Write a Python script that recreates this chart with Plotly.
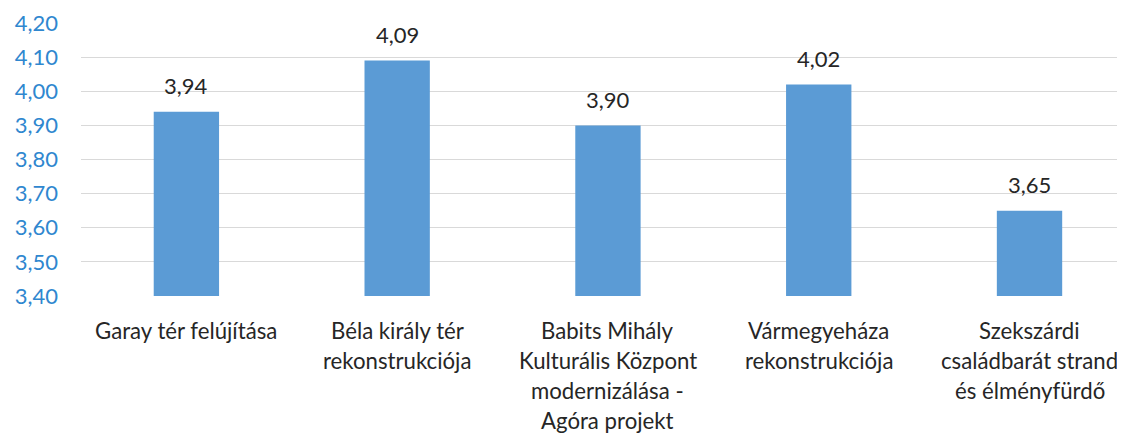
import plotly.graph_objects as go

categories = [
    "Garay tér felújítása",
    "Béla király tér<br>rekonstrukciója",
    "Babits Mihály<br>Kulturális Központ<br>modernizálása -<br>Agóra projekt",
    "Vármegyeháza<br>rekonstrukciója",
    "Szekszárdi<br>családbarát strand<br>és élményfürdő",
]
values = [3.94, 4.09, 3.90, 4.02, 3.65]
y_ticks = [3.40, 3.50, 3.60, 3.70, 3.80, 3.90, 4.00, 4.10, 4.20]

FONT = "Lato"
FS = 22
xs = list(range(len(categories)))

fig = go.Figure()
fig.add_trace(go.Bar(
    x=xs, y=values, marker=dict(color="#5B9BD5", line=dict(width=0)),
    width=0.31, hoverinfo="skip",
))

annotations = []
for i, v in enumerate(values):
    annotations.append(dict(
        x=i, y=v, xref="x", yref="y", text=f"{v:.2f}".replace(".", ","),
        showarrow=False, yanchor="middle", yshift=26,
        font=dict(family=FONT, size=FS, color="#262626"),
    ))
for i, cat in enumerate(categories):
    for j, line in enumerate(cat.split("<br>")):
        annotations.append(dict(
            x=i, y=0, xref="x", yref="paper", text=line,
            showarrow=False, yanchor="middle", yshift=-34 - 30 * j,
            font=dict(family=FONT, size=22.2, color="#262626"),
        ))

fig.update_layout(
    width=1117, height=428,
    margin=dict(l=73, r=0, t=15, b=140),
    paper_bgcolor="white", plot_bgcolor="white",
    separators=", ",
    showlegend=False,
    annotations=annotations,
    xaxis=dict(range=[-0.5, 4.453], showticklabels=False, showgrid=False,
               zeroline=False, showline=False, ticks=""),
    yaxis=dict(range=[3.40, 4.20], tickvals=y_ticks, tickformat=".2f",
               showgrid=True, gridcolor="#D9D9D9", gridwidth=1.3,
               zeroline=False, showline=False, ticks="", ticklen=0,
               tickfont=dict(family=FONT, size=FS, color="#2F87CF"),
               ),
)
fig.update_yaxes(ticklabelstandoff=22)

fig.write_html("out.html")
